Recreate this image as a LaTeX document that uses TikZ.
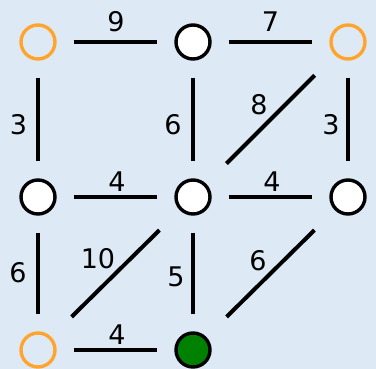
\documentclass[tikz,border=0pt]{standalone}
\usepackage{fontspec}
\setmainfont{DejaVu Sans}
\definecolor{bgblue}{RGB}{221,234,246}
\definecolor{nodeorange}{RGB}{255,165,45}
\definecolor{nodegreen}{RGB}{0,128,0}
\begin{document}
\begin{tikzpicture}[x=1pt,y=-1pt,
  vtx/.style={circle,minimum size=34pt,inner sep=0pt,line width=3.4pt},
  plain/.style={vtx,draw=black,fill=white},
  orange/.style={vtx,draw=nodeorange},
  goal/.style={vtx,draw=black,fill=nodegreen},
  edge/.style={line width=4pt,shorten <=17pt,shorten >=17pt},
  dedge/.style={line width=4pt,shorten <=28.5pt,shorten >=28.5pt},
  wlabel/.style={inner sep=0pt,font=\fontsize{27}{31}\selectfont}]
\fill[bgblue] (0,0) rectangle (376,369);
\useasboundingbox (0,0) rectangle (376,369);
\node[orange] (a) at (38,42) {};
\node[plain]  (b) at (193,42) {};
\node[orange] (c) at (348,42) {};
\node[plain]  (d) at (38,197) {};
\node[plain]  (e) at (193,197) {};
\node[plain]  (f) at (348,197) {};
\node[orange] (g) at (38,350) {};
\node[goal]   (h) at (193,350) {};
\draw[edge] (a) -- (b);
\draw[edge] (b) -- (c);
\draw[edge] (a) -- (d);
\draw[edge] (b) -- (e);
\draw[dedge] (c) -- (e);
\draw[edge] (c) -- (f);
\draw[edge] (d) -- (e);
\draw[edge] (e) -- (f);
\draw[edge] (d) -- (g);
\draw[dedge] (e) -- (g);
\draw[edge] (e) -- (h);
\draw[dedge] (f) -- (h);
\draw[edge] (g) -- (h);
\node[wlabel] (l1) at (116,21.5) {9};
\node[wlabel] (l2) at (270.5,21.5) {7};
\node[wlabel] (l3) at (18.5,124.5) {3};
\node[wlabel] (l4) at (173,124.5) {6};
\node[wlabel] (l5) at (259,105) {8};
\node[wlabel] (l6) at (331,124.5) {3};
\node[wlabel] (l7) at (117,181.5) {4};
\node[wlabel] (l8) at (272,181.5) {4};
\node[wlabel] (l9) at (18,273) {6};
\node[wlabel] (l10) at (98,259) {10};
\node[wlabel] (l11) at (176,277) {5};
\node[wlabel] (l12) at (258,261) {6};
\node[wlabel] (l13) at (117,335) {4};
\end{tikzpicture}
\end{document}
